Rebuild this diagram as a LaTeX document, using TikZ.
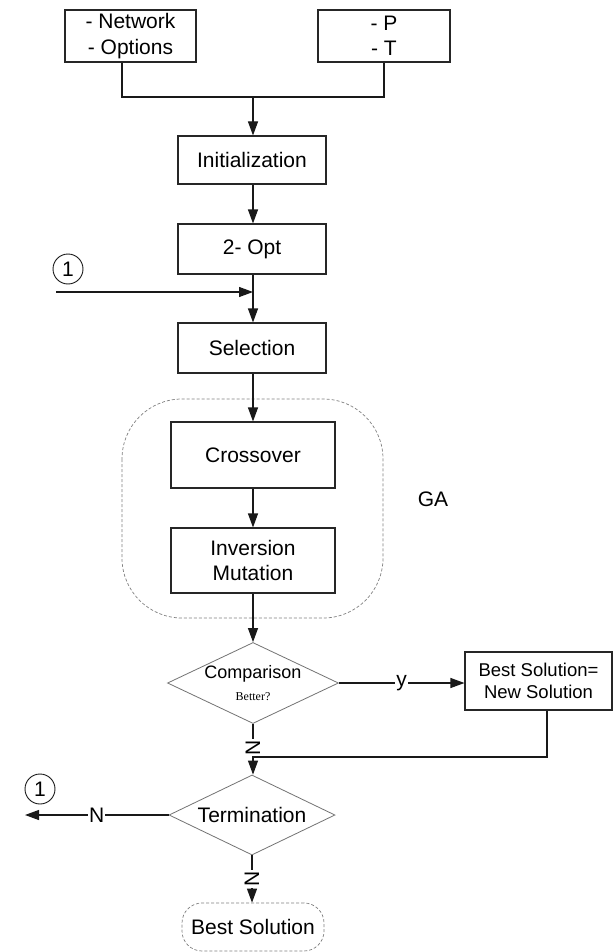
\documentclass[tikz,border=0pt]{standalone}
\usepackage{fontspec}
\setmainfont{Liberation Sans}
\newfontfamily\smallserif{Liberation Serif}
\usetikzlibrary{arrows.meta,shapes.geometric}
\tikzset{
  procbox/.style={draw=black!85,line width=1.1pt,rectangle,inner sep=0pt,align=center,
    font=\fontsize{21}{25.5}\selectfont},
  decision/.style={draw=black!55,line width=0.8pt,diamond,inner sep=0pt},
  grouparea/.style={draw=black!50,line width=0.7pt,dash pattern=on 3pt off 2pt,rounded corners=60pt},
  terminal/.style={draw=black!50,line width=0.7pt,dash pattern=on 3pt off 2pt,rounded corners=20pt,
    inner sep=0pt,font=\fontsize{21}{25.5}\selectfont},
  connector/.style={draw=black!90,circle,line width=0.9pt,inner sep=0pt,minimum size=30pt,
    font=\fontsize{21}{25}\selectfont},
  flow/.style={line width=1.1pt,draw=black!90},
  arr/.style={flow,-{Triangle[length=14pt,width=10pt]}},
  lab/.style={fill=white,inner sep=1pt,font=\fontsize{21}{25}\selectfont},
  txt/.style={inner sep=0pt,font=\fontsize{21}{25}\selectfont},
}
\begin{document}
\begin{tikzpicture}[x=1pt,y=-1pt]
\useasboundingbox (0,0) rectangle (613,952);
\fill[white] (0,0) rectangle (613,952);

% inputs
\node[procbox,minimum width=131pt,minimum height=52pt] (net) at (130.5,36) {- Network\\- Options};
\node[procbox,minimum width=132pt,minimum height=52pt] (pt) at (384,36) {- P\\- T};
\coordinate (merge) at (253,97);

% main chain
\node[procbox,minimum width=148pt,minimum height=48pt] (init) at (252,160) {Initialization};
\node[procbox,minimum width=148pt,minimum height=50pt] (opt) at (252,249) {2- Opt};
\node[procbox,minimum width=148pt,minimum height=50pt] (sel) at (252,348) {Selection};

% loop re-entry
\node[connector] (c1) at (68,269) {1};
\coordinate (loopin) at (56,292);

% GA block
\draw[grouparea] (122,399) rectangle (383,618);
\node[txt] (ga) at (433,499) {GA};
\node[procbox,minimum width=164pt,minimum height=66pt] (cross) at (253,455) {Crossover};
\node[procbox,minimum width=164pt,minimum height=65pt] (inv) at (253,560.5) {Inversion\\Mutation};

% comparison
\node[decision,minimum width=171pt,minimum height=81pt] (cmp) at (253,683) {};
\node[inner sep=0pt,font=\fontsize{18}{22}\selectfont] (cmptxt) at (253,674) {Comparison};
\node[inner sep=0pt,font=\smallserif\fontsize{12}{14}\selectfont] (better) at (253,697) {Better?};
\node[procbox,minimum width=147pt,minimum height=58pt,font=\fontsize{18.5}{22.5}\selectfont] (best) at (538.5,681) {Best Solution=\\New Solution};
\coordinate (join) at (253,757);

% termination
\node[decision,minimum width=166pt,minimum height=80pt] (term) at (252,815) {};
\node[txt] (termtxt) at (252,815) {Termination};
\node[connector] (c2) at (40,789) {1};
\coordinate (loopout) at (25,815);
\node[terminal,minimum width=142pt,minimum height=48pt] (end) at (253,927) {Best Solution};

% connectors
\draw[flow] ([xshift=-8.5pt]net.south) |- (merge) -| (pt.south);
\draw[arr] (merge) -- (init.north -| merge);
\draw[arr] (init.south -| merge) -- (opt.north -| merge);
\draw[arr] (opt.south -| merge) -- (sel.north -| merge);
\draw[arr] (loopin) -- (loopin -| merge);
\draw[arr] (sel.south -| merge) -- (cross.north);
\draw[arr] (cross) -- (inv);
\draw[arr] (inv) -- (cmp.north);
\draw[arr] (cmp.east) -- node[lab,pos=0.5]{y} (best.west |- cmp.east);
\draw[flow] ([xshift=8.5pt]best.south) |- (join);
\draw[arr] (cmp.south) -- node[lab,rotate=90,pos=0.47]{N} (term.north -| cmp.south);
\draw[arr] (term.west) -- node[lab,pos=0.5]{N} (loopout);
\draw[arr] (term.south) -- node[lab,rotate=90,pos=0.5]{N} (end.north -| term.south);
\end{tikzpicture}
\end{document}
